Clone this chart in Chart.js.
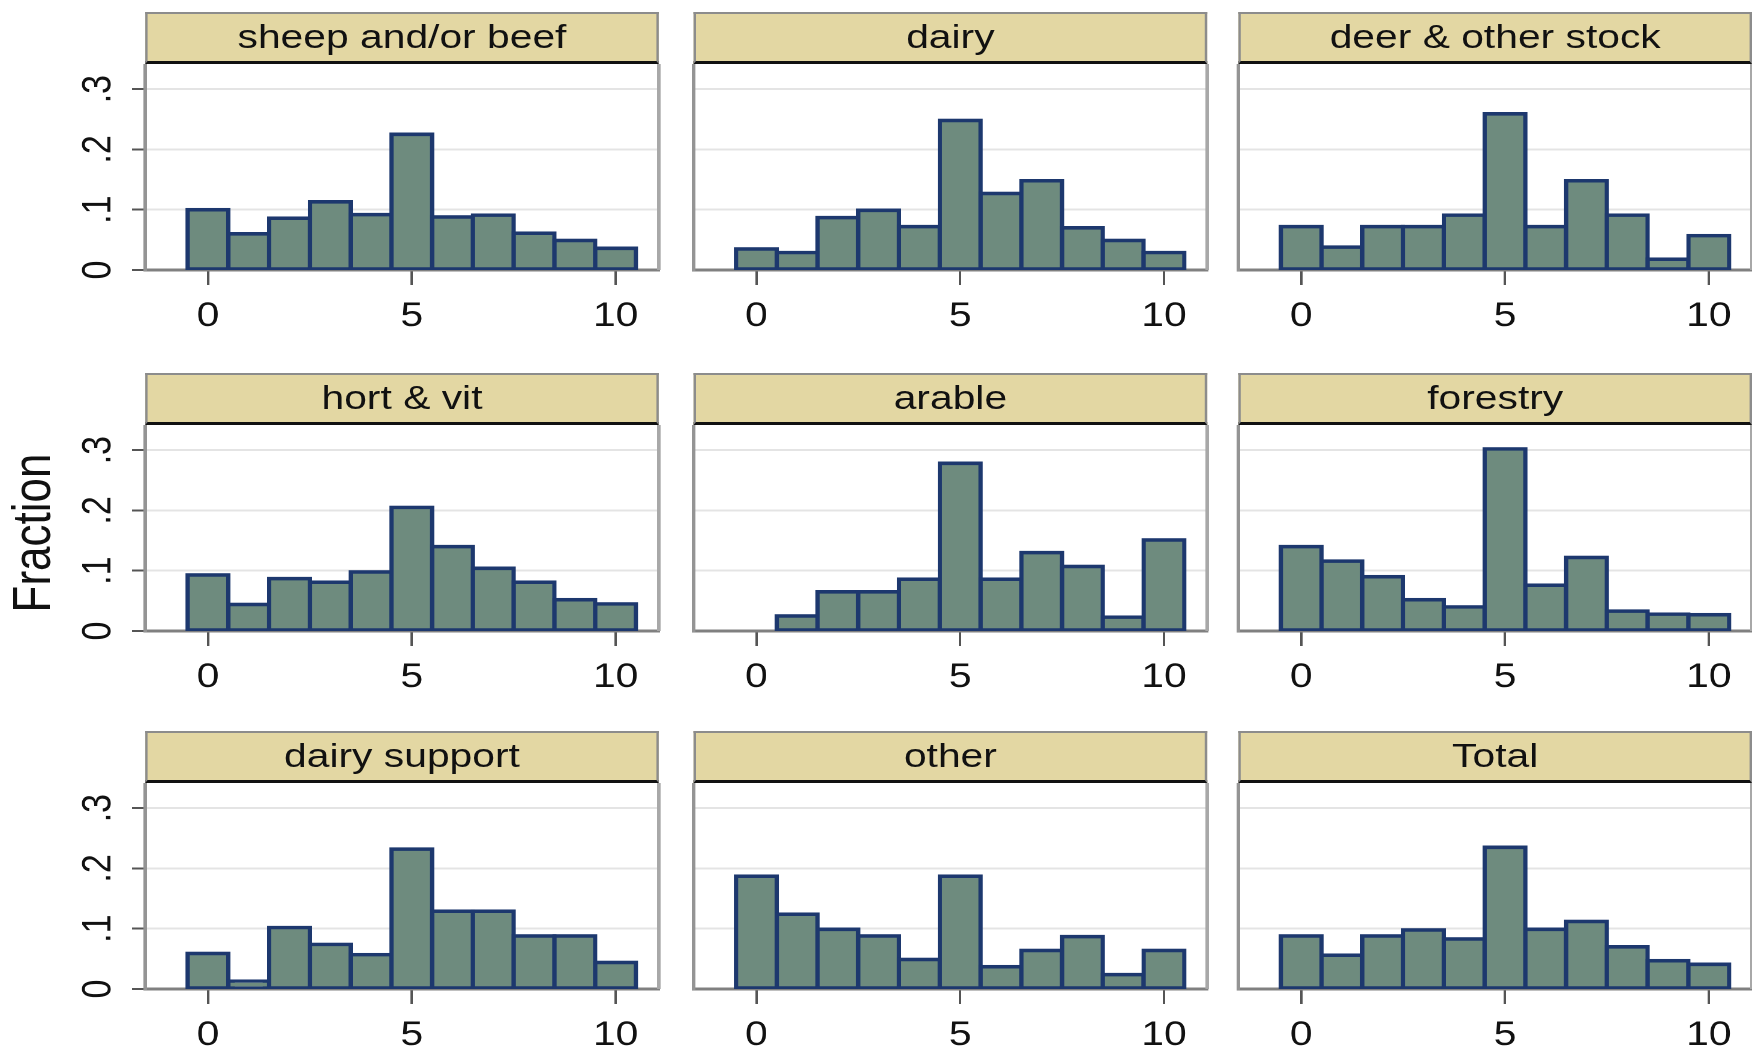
<!DOCTYPE html>
<html>
<head>
<meta charset="utf-8">
<title>Fraction by farm type</title>
<script src="https://cdn.jsdelivr.net/npm/chart.js@4.4.1/dist/chart.umd.min.js"></script>
<style>
  html, body { margin: 0; padding: 0; background: #fff; }
  body { width: 1752px; height: 1050px; overflow: hidden; position: relative; font-family: "Liberation Sans", Arial, sans-serif; }
  /* the original graph is stretched sideways, so the whole figure is too */
  #figure { position: absolute; left: 0; top: 0; width: 1460px; height: 1050px; transform: scaleX(1.2); transform-origin: 0 0; }
  .strip { position: absolute; box-sizing: border-box; background: #e3d7a3; border: 2px solid #8c8c8c; border-bottom: 3px solid #111;
           color: #111; font-size: 34px; text-align: center; line-height: 44px; white-space: nowrap; overflow: hidden; }
  .panel { position: absolute; }
  #ytitle { position: absolute; left: 27px; top: 533px; font-size: 44px; color: #111; white-space: nowrap;
            transform: translate(-50%, -50%) rotate(-90deg); }
</style>
</head>
<body>
<div id="figure">
  <div id="ytitle">Fraction</div>
</div>
<script>
// Histogram values (fraction per score)
const scores = [0, 1, 2, 3, 4, 5, 6, 7, 8, 9, 10];
const sheepBeef    = [0.100, 0.060, 0.086, 0.113, 0.092, 0.225, 0.088, 0.091, 0.061, 0.049, 0.036];
const dairy        = [0.035, 0.029, 0.087, 0.099, 0.072, 0.248, 0.127, 0.148, 0.070, 0.049, 0.029];
const deerOther    = [0.072, 0.038, 0.072, 0.072, 0.091, 0.259, 0.072, 0.148, 0.091, 0.018, 0.057];
const hortVit      = [0.093, 0.044, 0.087, 0.081, 0.098, 0.205, 0.140, 0.104, 0.081, 0.052, 0.045];
const arable       = [0, 0.025, 0.065, 0.065, 0.086, 0.278, 0.086, 0.130, 0.107, 0.023, 0.151];
const forestry     = [0.140, 0.116, 0.090, 0.052, 0.040, 0.302, 0.076, 0.122, 0.033, 0.028, 0.027];
const dairySupport = [0.059, 0.013, 0.102, 0.074, 0.057, 0.232, 0.129, 0.129, 0.088, 0.088, 0.044];
const other        = [0.187, 0.124, 0.099, 0.088, 0.049, 0.187, 0.037, 0.064, 0.087, 0.024, 0.064];
const total        = [0.088, 0.056, 0.088, 0.098, 0.083, 0.235, 0.099, 0.112, 0.070, 0.047, 0.041];

const panelTitles = ['sheep and/or beef', 'dairy', 'deer & other stock',
                     'hort & vit', 'arable', 'forestry',
                     'dairy support', 'other', 'Total'];
const panelValues = [sheepBeef, dairy, deerOther, hortVit, arable, forestry, dairySupport, other, total];

const xTicks = [0, 5, 10];
const xTickLabels = ['0', '5', '10'];
const yTickLabels = ['0', '.1', '.2', '.3'];

// Layout (x in unstretched px, the figure is scaled 1.2 wide)
const X_MIN = -1.54, X_MAX = 11.06;
const Y_MAX = 0.3416;
const Y_AXIS_W = 100;
const X_AXIS_H = 70;
const PLOT_W = 428;
const PLOT_H = 206;
const RIGHT_PAD = 6;
const STRIP_H = 52;
const colLeft = [121, 578, 1032];
const rowTop = [64, 425, 783];
const FONT = '"Liberation Sans", Arial, sans-serif';

Chart.defaults.font.family = FONT;
Chart.defaults.color = '#111';

// gray line down the right side of each plot region
const rightFrame = {
  id: 'rightFrame',
  afterDatasetsDraw(chart) {
    const { ctx, chartArea: a } = chart;
    ctx.save();
    ctx.strokeStyle = '#a8a8a8';
    ctx.lineWidth = 3;
    ctx.beginPath();
    ctx.moveTo(a.right, a.top);
    ctx.lineTo(a.right, a.bottom);
    ctx.stroke();
    ctx.restore();
  }
};

function makePanel(index) {
  const col = index % 3;
  const row = Math.floor(index / 3);
  const fig = document.getElementById('figure');
  const showY = col === 0;

  // title strip
  const strip = document.createElement('div');
  strip.className = 'strip';
  strip.style.left = colLeft[col] + 'px';
  strip.style.top = (rowTop[row] - STRIP_H) + 'px';
  strip.style.width = PLOT_W + 'px';
  strip.style.height = STRIP_H + 'px';
  strip.textContent = panelTitles[index];
  fig.appendChild(strip);

  const canvas = document.createElement('canvas');
  canvas.className = 'panel';
  const w = Y_AXIS_W + PLOT_W + RIGHT_PAD;
  const h = PLOT_H + X_AXIS_H;
  canvas.width = w;
  canvas.height = h;
  canvas.style.left = (colLeft[col] - Y_AXIS_W) + 'px';
  canvas.style.top = rowTop[row] + 'px';
  fig.appendChild(canvas);

  const values = panelValues[index];

  new Chart(canvas.getContext('2d'), {
    type: 'bar',
    data: {
      datasets: [{
        data: scores.map((s, i) => ({ x: s, y: values[i] })),
        backgroundColor: c => (c.raw && c.raw.y === 0) ? 'rgba(0,0,0,0)' : '#6e8b7e',
        borderColor: '#1d386e',
        borderWidth: 3.6,
        borderSkipped: false,
        inflateAmount: 1.8,
        barPercentage: 1,
        categoryPercentage: 1
      }]
    },
    options: {
      responsive: false,
      animation: false,
      devicePixelRatio: 2,
      layout: { padding: { left: 0, right: RIGHT_PAD, top: 0, bottom: 0 } },
      plugins: {
        legend: { display: false },
        tooltip: { enabled: false }
      },
      scales: {
        x: {
          type: 'linear',
          min: X_MIN,
          max: X_MAX,
          offset: false,
          ticks: {
            stepSize: 5,
            includeBounds: false,
            autoSkip: false,
            maxRotation: 0,
            minRotation: 0,
            padding: 11,
            font: { size: 34 },
            callback: v => xTickLabels[xTicks.indexOf(v)]
          },
          grid: { offset: false, drawOnChartArea: false, drawTicks: true, tickLength: 15, tickColor: '#555', lineWidth: 2 },
          border: { display: true, color: '#808080', width: 3 },
          afterFit: s => { s.height = X_AXIS_H; s.paddingLeft = 0; s.paddingRight = 0; }
        },
        y: {
          min: 0,
          max: Y_MAX,
          ticks: {
            display: showY,
            stepSize: 0.1,
            includeBounds: false,
            minRotation: 90,
            maxRotation: 90,
            crossAlign: 'center',
            padding: 13,
            font: { size: 34 },
            callback: (v, i) => yTickLabels[i]
          },
          grid: {
            color: c => (c.tick && c.tick.value === 0) ? 'rgba(0,0,0,0)' : '#e4e4e4',
            lineWidth: 2,
            drawTicks: showY,
            tickLength: 11,
            tickColor: '#555'
          },
          border: { display: true, color: '#949494', width: 3 },
          afterFit: s => { s.width = Y_AXIS_W; s.paddingTop = 0; s.paddingBottom = 0; }
        }
      }
    },
    plugins: [rightFrame]
  });
}

// Build all nine panels on page load
document.addEventListener('DOMContentLoaded', () => {
  panelTitles.forEach((t, i) => makePanel(i));
});
</script>
</body>
</html>
